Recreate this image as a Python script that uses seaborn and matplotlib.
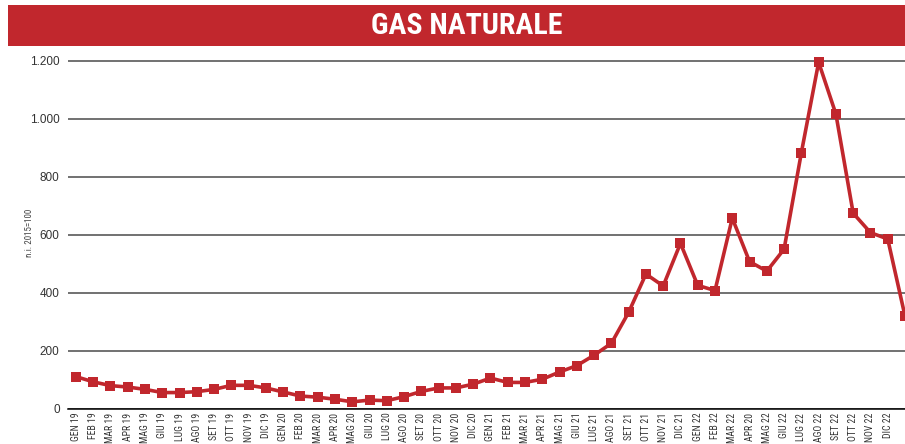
import matplotlib
matplotlib.use("Agg")
import matplotlib.pyplot as plt
from matplotlib.patches import Rectangle
from matplotlib.ticker import FuncFormatter
import seaborn as sns
import pandas as pd

months = ["GEN", "FEB", "MAR", "APR", "MAG", "GIU", "LUG", "AGO", "SET", "OTT", "NOV", "DIC"]
labels = [f"{m} {y}" for y in ["19", "20", "21", "22"] for m in months]
labels[39] = "APR 20"  # as printed in the original
labels.append("GEN 23")

values = [110, 92, 79, 74, 66, 55, 55, 58, 66, 80, 80, 71,
          57, 43, 39, 32, 23, 29, 27, 41, 59, 71, 71, 84,
          105, 90, 90, 101, 126, 148, 184, 225, 332, 464, 423, 570,
          425, 407, 657, 507, 474, 550, 883, 1195, 1016, 674, 607, 585,
          319]

yticks = [0, 200, 400, 600, 800, 1000, 1200]

df = pd.DataFrame({"idx": range(len(values)), "val": values, "label": labels})

sns.set_style("white")
plt.rcParams["font.family"] = ["Liberation Sans", "DejaVu Sans"]
COND = ["Roboto Condensed", "Liberation Sans Narrow", "DejaVu Sans"]

RED = "#c1272d"
fig = plt.figure(figsize=(9.05, 4.44), dpi=100)
W, H = 905, 444

# Banner
fig.patches.append(Rectangle((8 / W, 1 - 46 / H), 1 - 8 / W, 41 / H,
                             transform=fig.transFigure, facecolor=RED,
                             edgecolor="none", zorder=0))
fig.text(467 / W, 1 - 25.5 / H, "GAS NATURALE", color="white", fontsize=21.5,
         fontweight="bold", ha="center", va="center", family=COND)

ax = fig.add_axes([68 / W, 1 - 408.5 / H, 1 - 68 / W, (408.5 - 55) / H])
sns.lineplot(data=df, x="idx", y="val", ax=ax, color=RED, linewidth=2.6,
             marker="s", markersize=7.5, markeredgewidth=0, markerfacecolor=RED,
             clip_on=False, zorder=5)

ax.set_xlim(-0.46, 48.0)
ax.set_ylim(0, 1220)
ax.set_yticks(yticks)
ax.yaxis.set_major_formatter(FuncFormatter(lambda v, p: f"{int(v):,}".replace(",", ".")))
ax.grid(axis="y", color="#4a4a4a", linewidth=1.1)
ax.set_axisbelow(True)

ax.set_xticks(range(48))
ax.set_xticklabels(labels[:48], rotation=90, fontsize=7, color="#333333", family=COND)
ax.tick_params(axis="x", direction="in", length=6, width=0.9, color="black", pad=3)
ax.tick_params(axis="y", length=0, labelsize=8.5, labelcolor="#333333", pad=6)

for s in ["top", "right", "left"]:
    ax.spines[s].set_visible(False)
ax.spines["bottom"].set_color("black")
ax.spines["bottom"].set_linewidth(1.1)

ax.set_xlabel("")
ax.set_ylabel("n.i. 2015=100", fontsize=6.5, color="#444444", family=COND)
ax.yaxis.set_label_coords(-34 / 837, (408.5 - 233) / (408.5 - 55))

fig.savefig("out.png", dpi=100)
